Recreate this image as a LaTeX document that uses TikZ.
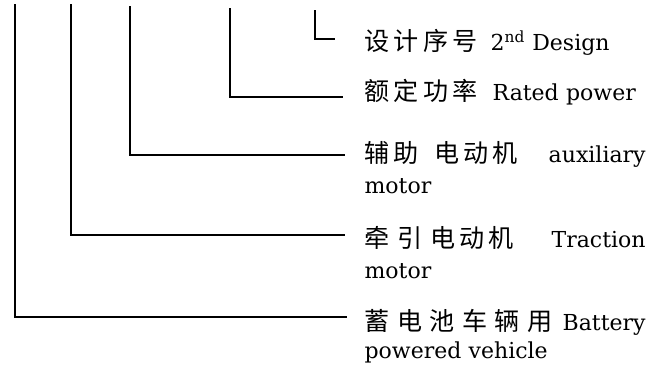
\documentclass[tikz,border=0pt]{standalone}
\usepackage{fontspec}
\setmainfont{DejaVu Serif}
\newfontfamily\cjk[Scale=1.14]{Noto Sans CJK SC}
\usetikzlibrary{calc}
\newcommand{\cjkw}[2]{{\cjk\addfontfeature{LetterSpace=#1}#2}} % args = letter spacing, chinese text
\newcommand{\lblx}{364}

\begin{document}
\begin{tikzpicture}[x=1pt, y=-1pt, line width=1.2pt,
	lbl/.style={anchor=base west, inner sep=0pt, text width=281pt, align=left, font=\fontsize{22}{31}\selectfont}]
	\useasboundingbox (0,0) rectangle (665,370);
		% leader lines = one per letter of the code
		\foreach \i/\x/\t/\y/\e in {1/15/4/317/347, 2/71/4/235/345, 3/130/6/155/345, 4/230/8/97/343, 5/315/10/39/335} {
			\coordinate (top\i) at (\x,\t); % top end of the leader
			\coordinate (arm\i) at (\e,\y); % end of the arm, next to the label
			\draw (top\i) |- (arm\i);
		};
		% labels
		\node[lbl] (design)    at (\lblx,  50) {\cjkw{17}{设计序号}\hspace{13pt}2\textsuperscript{nd} Design};
		\node[lbl] (power)     at (\lblx, 100) {\cjkw{17}{额定功率}\hspace{15pt}Rated power};
		\node[lbl] (auxmotor)  at (\lblx, 162) {\cjkw{16}{辅助\hspace{16pt}电动机}\hfill auxiliary\\motor};
		\node[lbl] (tracmotor) at (\lblx, 247) {\cjkw{16}{牵\hspace{8pt}引\hspace{8pt}电动机}\hfill Traction\\motor};
		\node[lbl] (vehicle)   at (\lblx, 330) {\cjkw{30}{蓄电池车辆用}\hspace{-2pt}\hfill Battery\\[-3pt]powered vehicle};
\end{tikzpicture}
\end{document}
